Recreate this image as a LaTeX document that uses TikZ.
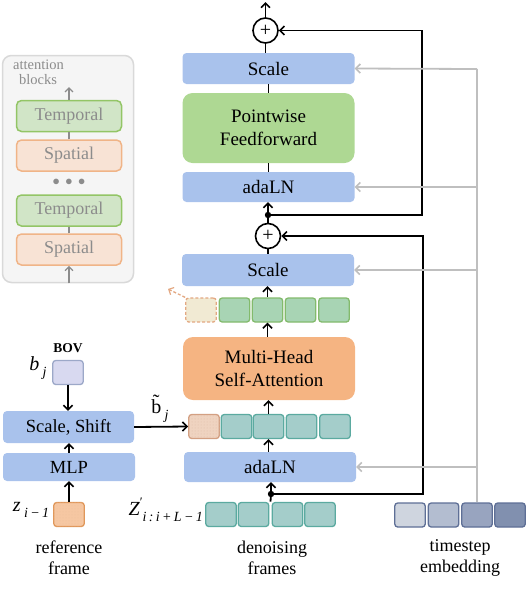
\documentclass[tikz,border=0pt]{standalone}
\usepackage{fontspec}
\setmainfont{Liberation Serif}
\usetikzlibrary{arrows.meta,fit,patterns}
\definecolor{cBlue}{HTML}{A9C2EC}
\definecolor{cFFN}{HTML}{AED893}
\definecolor{cMH}{HTML}{F5B482}
\definecolor{cGtok}{HTML}{A8D4B4}
\definecolor{cGtokB}{HTML}{83BA6C}
\definecolor{cTtok}{HTML}{A4CDCA}
\definecolor{cTtokB}{HTML}{5BAAA0}
\definecolor{cDash}{HTML}{F1EAD3}
\definecolor{cDashB}{HTML}{E3A882}
\definecolor{cStip}{HTML}{EFD3C0}
\definecolor{cStipB}{HTML}{D3A083}
\definecolor{cZ}{HTML}{F6C7A2}
\definecolor{cZB}{HTML}{E0975A}
\definecolor{cBov}{HTML}{D8D9F0}
\definecolor{cBovB}{HTML}{9CA8C8}
\definecolor{cGray}{HTML}{BFBFBF}
\definecolor{cTsA}{HTML}{CFD5DF}
\definecolor{cTsB}{HTML}{B3BDD0}
\definecolor{cTsC}{HTML}{98A4BF}
\definecolor{cTsD}{HTML}{8190AF}
\definecolor{cTsBd}{HTML}{5E6F96}
\definecolor{cPanel}{HTML}{F5F5F5}
\definecolor{cPanelB}{HTML}{D9D9D9}
\definecolor{cPtext}{HTML}{8C8C8C}
\definecolor{cTmp}{HTML}{D1E5C7}
\definecolor{cTmpB}{HTML}{93C566}
\definecolor{cSpa}{HTML}{F8E3D5}
\definecolor{cSpaB}{HTML}{F0B487}
\newcommand{\mysub}[1]{\raisebox{-0.32em}{\fontsize{14}{14}\selectfont\itshape #1}}
\begin{document}
\begin{tikzpicture}[x=1pt,y=-1pt,
  bluebox/.style={fill=cBlue, rounded corners=4pt, minimum width=172pt, inner sep=0pt, font=\fontsize{19}{23}\selectfont},
  bigbox/.style={rounded corners=10pt, minimum width=172pt, inner sep=0pt, align=center, font=\fontsize{19}{23}\selectfont},
  tok/.style={draw, rounded corners=3pt, line width=1.3pt, minimum width=30.5pt, minimum height=24pt, inner sep=0pt},
  gtok/.style={tok, fill=cGtok, draw=cGtokB},
  ttok/.style={tok, fill=cTtok, draw=cTtokB},
  tstok/.style={tok, draw=cTsBd},
  stip/.style={postaction={pattern=dots, pattern color=#1}},
  arr/.style={line width=1.8pt, -{Straight Barb[length=4.5pt,width=9pt,line width=1.6pt]}},
  ln/.style={line width=1.8pt},
  garr/.style={line width=1.8pt, draw=cGray, -{Straight Barb[length=4.5pt,width=9pt,line width=1.6pt]}},
  gln/.style={line width=1.8pt, draw=cGray},
  plus/.style={circle, draw, line width=1.6pt, minimum size=25pt, inner sep=0pt, font=\fontsize{20}{20}\selectfont},
  lbl/.style={font=\fontsize{18}{21}\selectfont, align=center},
  mlbl/.style={font=\fontsize{20}{20}\selectfont, inner sep=0pt},
  pbox/.style={draw, line width=1.5pt, rounded corners=5pt, minimum width=105pt, minimum height=31pt, inner sep=0pt, text=cPtext, font=\fontsize{18}{18}\selectfont},
  parr/.style={line width=1.6pt, draw=cPtext, -{Straight Barb[length=4pt,width=8pt,line width=1.4pt]}},
  pln/.style={line width=1.6pt, draw=cPtext},
]
\useasboundingbox (0,0) rectangle (530,614);

% ---------- left panel: attention blocks ----------
\node[draw=cPanelB, fill=cPanel, line width=1.5pt, rounded corners=9pt, minimum width=131pt, minimum height=227pt, inner sep=0pt] (panel) at (68,169) {};
\node[text=cPtext, font=\fontsize{14.5}{16}\selectfont, align=left, anchor=north west, inner sep=0pt] (ptitle) at (13,60) {attention\\[-1pt]\hspace*{6pt}blocks};
\node[pbox, fill=cTmp, draw=cTmpB] (T1) at (69,116) {Temporal};
\node[pbox, fill=cSpa, draw=cSpaB] (S1) at (69,155.5) {Spatial};
\node[text=cPtext, font=\fontsize{14}{14}\selectfont, inner sep=0pt] (pdots) at (69,182) {$\bullet\,\bullet\,\bullet$};
\node[pbox, fill=cTmp, draw=cTmpB] (T2) at (69,210.5) {Temporal};
\node[pbox, fill=cSpa, draw=cSpaB] (S2) at (69,249.5) {Spatial};
\coordinate (ptop) at (69,87);
\draw[parr] (T1.north) -- (ptop);
\draw[pln] (S1.north) -- (T1.south);
\draw[pln] (S2.north) -- (T2.south);
\draw[parr] (panel.south -| S2.south) -- (S2.south);

% ---------- upper block ----------
\node[plus] (plus1) at (265.5,30.5) {+};
\node[bluebox, minimum height=31pt] (sc1) at (268.5,68.5) {Scale};
\node[bigbox, fill=cFFN, minimum height=70pt] (ffn) at (268.5,128) {Pointwise\\Feedforward};
\node[bluebox, minimum height=30pt] (ada1) at (268.5,187) {adaLN};
\coordinate (out) at (265.5,2);
\draw[arr] (plus1.north) -- (out);
\draw[ln] (plus1.south) -- (plus1.south |- sc1.north);
\draw[ln] (sc1.south) -- (ffn.north);
\draw[ln] (ada1.north) -- (ffn.south);

% ---------- lower block ----------
\node[plus] (plus2) at (268,236) {+};
\node[bluebox, minimum height=32pt] (sc2) at (268,270) {Scale};
\node[tok, fill=cDash, draw=cDashB, dashed, dash pattern=on 3pt off 2pt] (gd) at (201,310) {};
\node[gtok] (g1) at (234.5,310) {};
\node[gtok] (g2) at (267.5,310) {};
\node[gtok] (g3) at (300.5,310) {};
\node[gtok] (g4) at (334,310) {};
\node[bigbox, fill=cMH, minimum height=63pt] (mh) at (269,368.5) {Multi-Head\\Self-Attention};
\node[tok, fill=cStip, draw=cStipB, stip=cStipB!70] (tb) at (204,426.5) {};
\node[ttok] (t1) at (236.5,426.5) {};
\node[ttok] (t2) at (268.5,426.5) {};
\node[ttok] (t3) at (301.5,426.5) {};
\node[ttok] (t4) at (335,426.5) {};
\node[bluebox, minimum height=30pt] (ada2) at (270,467) {adaLN};
\node[ttok] (z1) at (221,514.5) {};
\node[ttok] (z2) at (253.5,514.5) {};
\node[ttok] (z3) at (287.5,514.5) {};
\node[ttok] (z4) at (320,514.5) {};
\node[fit=(z1)(z4), inner sep=0pt] (zrow) {};
\node[mlbl, anchor=east] (zlab) at (203,510) {\textit{Z}\raisebox{0.45em}{\fontsize{13}{13}\selectfont\char"2032}\mysub{i\,:\,i\,+\,L\,\char"2212\,1}};
\node[lbl] (dlab) at (272,558) {denoising\\frames};

\coordinate (d1) at (268,215);
\coordinate (d2) at (271,494);
\coordinate (dashend) at (168,289);
\draw[ln] (sc2.north) -- (plus2.south);
\draw[ln] (plus2.north) -- (d1);
\draw[arr] (d1) -- (d1 |- ada1.south);
\fill (d1) circle (3.2pt);
\coordinate (r1) at (422,215);
\draw[arr] (d1) -- (r1) |- (plus1.east);
\draw[arr] (g2.north) -- (g2.north |- sc2.south);
\draw[arr] (mh.north -| g2.south) -- (g2.south);
\draw[line width=1.3pt, draw=cDashB, dashed, dash pattern=on 3pt off 2pt, -{Straight Barb[length=4pt,width=8pt,line width=1.2pt]}] (gd.north west) -- (dashend);
\draw[arr] (t2.north) -- (t2.north |- mh.south);
\draw[arr] (ada2.north -| t2.south) -- (t2.south);
\draw[ln] (zrow.north) -- (d2);
\draw[arr] (d2) -- (d2 |- ada2.south);
\fill (d2) circle (3.2pt);
\coordinate (r2) at (423,494);
\draw[arr] (d2) -- (r2) |- (plus2.east);

% ---------- timestep embedding ----------
\node[tstok, fill=cTsA] (ts1) at (410,515) {};
\node[tstok, fill=cTsB] (ts2) at (443.5,515) {};
\node[tstok, fill=cTsC] (ts3) at (477,515) {};
\node[tstok, fill=cTsD] (ts4) at (510,515) {};
\node[lbl] (tlab) at (460,558) {timestep\\embedding};
\coordinate (gtop) at (477,69);
\draw[gln] (ts3.north) -- (gtop);
\draw[garr] (gtop) -- (sc1.east);
\draw[garr] (ts3.north |- ada1.east) -- (ada1.east);
\draw[garr] (ts3.north |- sc2.east) -- (sc2.east);
\draw[garr] (ts3.north |- ada2.east) -- (ada2.east);

% ---------- reference frame branch ----------
\node[font=\bfseries\fontsize{13.5}{13.5}\selectfont] (bov) at (68,348) {BOV};
\node[tok, fill=cBov, draw=cBovB] (bb) at (68,372.5) {};
\node[mlbl] (blab) at (38,368) {\textit{b}\,\mysub{j}};
\node[bluebox, minimum width=131pt, minimum height=32pt, font=\fontsize{18.5}{20}\selectfont] (scsh) at (68.5,427) {Scale, Shift};
\node[bluebox, minimum width=132pt, minimum height=28pt, font=\fontsize{18.5}{20}\selectfont] (mlp) at (69,467) {MLP};
\node[tok, fill=cZ, draw=cZB, stip=cZB!60] (zb) at (69,514.5) {};
\node[mlbl] (zilab) at (31,510) {\textit{z}\,\mysub{i\,\char"2212\,1}};
\node[lbl] (rlab) at (69,558) {reference\\frame};
\node[mlbl] (btlab) at (160,409) {\~{b}\,\mysub{j}};
\draw[arr] (bb.south) -- (bb.south |- scsh.north);
\draw[arr] (mlp.north) -- (mlp.north |- scsh.south);
\draw[arr] (zb.north) -- (zb.north |- mlp.south);
\draw[arr] (scsh.east) -- (tb.west);
\end{tikzpicture}
\end{document}
